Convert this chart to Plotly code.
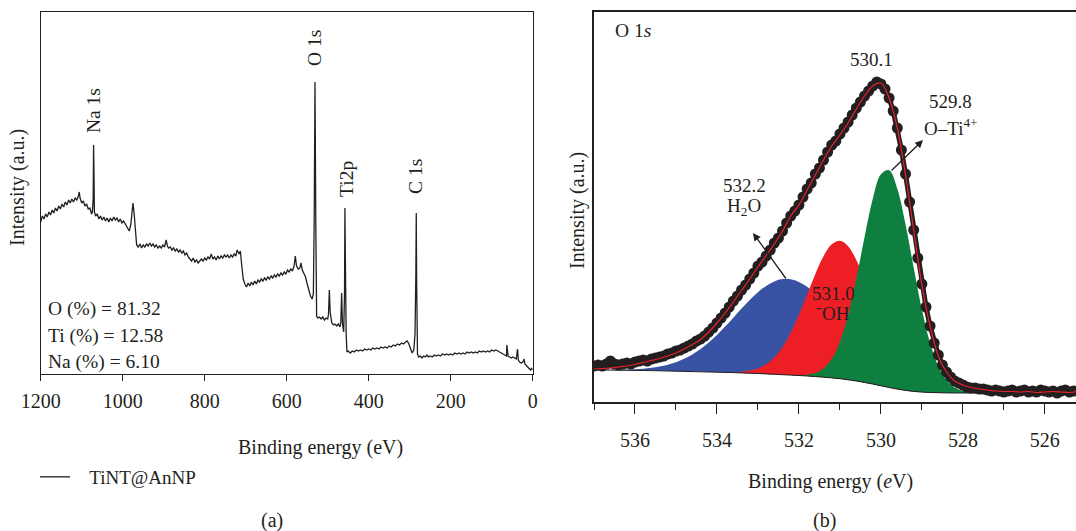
import numpy as np
import plotly.graph_objects as go

# ---------------- (a) survey spectrum ----------------
survey_E = [1200,1196,1192,1188,1184,1180,1176,1172,1168,1164,1160,1156,1152,1148,1144,1140,1136,1132,1128,1124,1120,1116,1112,1108,1106,1104,1100,1096,1092,1088,1084,1080,1076,1074,1072,1071,1070,1069,1066,1062,
    1058,1054,1050,1046,1042,1038,1034,1030,1026,1022,1018,1014,1010,1006,1002,998,994,990,986,984,980,977,975,972,969,966,
    962,958,954,950,946,942,938,934,930,926,922,918,914,910,906,902,898,894,891,888,884,880,876,872,868,864,860,856,852,848,844,840,836,832,828,824,820,816,812,808,804,800,796,792,788,784,780,776,772,768,764,760,756,752,748,744,740,736,732,728,724,721,716,713,710,706,702,698,694,690,686,682,678,674,670,666,662,658,654,650,646,642,638,634,630,626,622,618,614,610,606,602,598,594,590,586,582,579,576,572,568,565,562,558,554,550,546,542,538,535,533,531,529,527,524,520,516,512,508,504,500,498,496,494,490,486,482,478,474,470,468,466,464,461,459,458,457,455,453,
    450,445,440,435,430,425,420,415,410,405,400,395,390,385,380,375,370,365,360,355,350,345,340,335,330,325,320,315,310,306,302,298,294,290,287,285,284,283,281,278,
    274,270,266,262,258,254,250,245,240,235,230,225,220,215,210,205,200,195,190,185,180,175,170,165,160,155,150,145,140,135,130,125,120,115,110,105,100,95,90,85,80,76,72,68,64,63,62,60,56,52,48,44,40,37,35,32,28,24,21,19,16,12,8,5,3,0]
survey_I = [152,158,155,160,157,162,159,164,161,166,163,168,165,170,167,172,169,174,171,175,172,176,174,178,182,176,171,173,168,170,165,166,160,162,175,229,200,162,158,160,
    155,158,154,157,153,156,152,156,153,157,154,156,152,155,151,153,150,148,145,143,150,168,171,160,140,129,
    127,130,126,129,127,130,128,131,128,130,127,129,126,128,126,129,127,134,128,126,127,124,126,123,125,122,124,121,123,119,121,117,115,113,116,112,114,111,113,115,113,116,114,117,115,120,115,117,114,118,115,118,116,119,117,119,116,119,117,120,118,124,120,123,110,95,90,87,91,88,92,89,93,90,94,92,95,93,96,94,97,95,98,96,99,97,100,98,101,99,102,100,104,102,105,103,108,118,108,105,106,111,104,101,97,90,84,78,75,80,150,292,150,58,56,57,55,57,54,56,55,60,84,62,51,49,50,48,50,47,52,81,50,42,80,166,120,40,22,
    23,21,23,22,24,23,24,23,25,24,25,24,26,25,26,25,27,26,27,26,28,27,29,28,30,29,31,30,32,33,30,25,21,24,40,100,161,90,20,17,
    18,16,18,17,19,17,18,17,19,18,19,18,20,19,20,19,20,19,21,20,21,20,21,20,22,21,22,21,22,21,23,22,23,22,23,22,24,23,24,23,22,21,20,19,18,29,20,18,17,16,17,16,15,25,14,12,11,12,15,10,9,7,5,4,6,4]
survey_ticks = [1200, 1000, 800, 600, 400, 200, 0]
peak_labels = ["Na 1s", "O 1s", "Ti2p", "C 1s"]
composition = ["O (%) = 81.32", "Ti (%) = 12.58", "Na (%) = 6.10"]

# ---------------- (b) O 1s high resolution ----------------
o1s_E = np.round(np.arange(537.0, 525.25, -0.1), 1)
o1s_counts = [36,37,36,38,41,38,37,38,39,38,40,41,42,41,43,44,45,46,48,49,51,52,54,56,58,61,63,66,70,74,
    79,84,89,95,101,106,112,117,123,129,136,140,146,152,159,164,171,179,186,191,
    197,205,213,219,228,234,242,250,257,261,268,274,280,287,294,300,306,311,316,320,
    318,313,304,291,274,252,228,200,172,144,118,95,76,59,47,37,30,25,21,19,
    17,15,14,14,13,13,12,11,12,11,10,11,12,10,11,12,10,11,10,12,11,10,11,9,11,12,10,11]

fit_E = np.round(np.arange(537.0, 525.15, -0.2), 1)
background = [32,32,31.9,31.8,31.7,31.6,31.5,31.4,31.2,31.0,30.8,30.6,30.4,30.2,30.0,29.8,29.6,29.4,29.1,28.8,
    28.5,28.1,27.7,27.3,26.9,26.5,26.0,25.4,24.8,24.1,23.3,22.2,21.0,19.5,18.0,16.2,14.5,12.9,11.6,10.6,
    9.9,9.5,9.3,9.1,9.0,9.0,9.0,9.0,9.0,9.0,9.0,9.0,9.0,9.0,9.0,9.0,9.0,9.0,9.0,9.0]
h2o_peak = [0.1,0.1,0.3,0.4,0.7,1.1,1.8,2.8,4.3,6.3,9.0,12.6,17.2,22.8,29.5,37.2,45.9,54.9,64.3,73.2,
    81.3,88.0,92.9,95.6,95.8,93.6,89.2,82.8,74.9,66.1,56.8,47.6,38.9,31.0,24.0,18.2,13.4,9.6,6.8,4.6,
    3.1,2.0,1.3,0.8,0.5,0.3,0.2,0.1,0,0,0,0,0,0,0,0,0,0,0,0]
oh_peak = [0,0,0,0,0,0,0,0,0,0,0,0,0,0,0,0,0,0.5,1.2,2.6,
    5.1,9.6,16.9,27.6,42.3,60.7,81.6,102.7,121.0,133.6,138,133.6,121.0,102.7,81.6,60.7,42.3,27.6,16.9,9.6,
    5.1,2.6,1.2,0.5,0.2,0,0,0,0,0,0,0,0,0,0,0,0,0,0,0]
oti_peak = [0,0,0,0,0,0,0,0,0,0,0,0,0,0,0,0,0,0,0,0,
    0,0,0,0,0.1,0.4,1.3,3.5,8.6,18.8,36.8,64.8,102.4,145.2,184.9,211.5,217.3,200.4,166.1,123.6,
    82.6,49.5,26.6,12.9,5.6,2.2,0.8,0.3,0.1,0,0,0,0,0,0,0,0,0,0,0]
envelope = [33,33.5,34,35,36,37.5,39.5,41.5,43.5,46,49,53,57.5,62.5,70,79,89,100,111.5,123,
    135,146.5,158,171,186,197,212,227,242,256,267,279,293,306,316,319,304,274,227,172,
    117,76,46,30,21,17,14.5,13,12,11,10.5,10.5,10,10.5,9.5,10,10.5,10,9.5,10.5]
o1s_ticks = [536, 534, 532, 530, 528, 526]

INK = "#231f20"
FONT = "Liberation Serif"
W, H = 1076, 531

def px(x):
    return x / W

def py(y):
    return 1 - y / H

fig = go.Figure()

fig.add_trace(go.Scatter(x=survey_E, y=survey_I, mode="lines",
                         name="\u00a0\u00a0\u00a0TiNT@AnNP",
                         line=dict(color=INK, width=1.3), xaxis="x", yaxis="y"))

bg = np.array(background)
for comp, col in [(h2o_peak, "#3953a4"), (oh_peak, "#ed1f24"), (oti_peak, "#0e7f3e")]:
    fig.add_trace(go.Scatter(x=fit_E, y=bg, mode="lines", line=dict(width=0, color=col, shape="spline"),
                             showlegend=False, hoverinfo="skip", xaxis="x2", yaxis="y2"))
    fig.add_trace(go.Scatter(x=fit_E, y=bg + np.array(comp), mode="lines", fill="tonexty",
                             fillcolor=col, line=dict(width=0, color=col, shape="spline"),
                             showlegend=False, xaxis="x2", yaxis="y2"))
fig.add_trace(go.Scatter(x=fit_E, y=bg, mode="lines", line=dict(width=1, color=INK, shape="spline"),
                         showlegend=False, xaxis="x2", yaxis="y2"))
fig.add_trace(go.Scatter(x=o1s_E, y=o1s_counts, mode="lines+markers",
                         line=dict(color=INK, width=5),
                         marker=dict(size=11, color=INK, line=dict(width=0)),
                         showlegend=False, xaxis="x2", yaxis="y2"))
fig.add_trace(go.Scatter(x=fit_E, y=envelope, mode="lines", line=dict(width=1.2, color="#e8232a", shape="spline"),
                         showlegend=False, xaxis="x2", yaxis="y2"))

axis_font = dict(family=FONT, size=20, color=INK)
fig.update_layout(
    width=W, height=H, margin=dict(l=0, r=0, t=0, b=0, autoexpand=False),
    paper_bgcolor="white", plot_bgcolor="white",
    font=dict(family=FONT, size=20, color=INK),
    showlegend=True,
    legend=dict(x=px(35), y=py(477), xanchor="left", yanchor="middle",
                font=dict(family=FONT, size=19, color=INK), bgcolor="rgba(0,0,0,0)"),
    xaxis=dict(domain=[px(40.7), px(532.7)], range=[1200, 0], tickvals=survey_ticks,
               ticks="outside", ticklen=6, tickwidth=1.2, tickcolor=INK, automargin=False,
               showline=True, linecolor=INK, linewidth=1.3, mirror=True,
               showgrid=False, zeroline=False, tickfont=axis_font, ticklabelstandoff=3),
    yaxis=dict(domain=[py(374), py(12)], range=[0, 362], showticklabels=False, ticks="",
               showline=True, linecolor=INK, linewidth=1.3, mirror=True, automargin=False,
               showgrid=False, zeroline=False),
    xaxis2=dict(domain=[px(594), 1.0], range=[537.0, 525.24], tickvals=o1s_ticks,
                ticks="outside", ticklen=10, tickwidth=1.3, tickcolor=INK, automargin=False,
                minor=dict(dtick=1, ticks="outside", ticklen=6, tickwidth=1.2, tickcolor=INK),
                showline=True, linecolor=INK, linewidth=1.5, mirror=True,
                showgrid=False, zeroline=False, tickfont=axis_font, ticklabelstandoff=9,
                anchor="y2"),
    yaxis2=dict(domain=[py(402), py(12)], range=[0, 390], showticklabels=False, ticks="",
                showline=True, linecolor=INK, linewidth=1.5, mirror=False, automargin=False,
                showgrid=False, zeroline=False, anchor="x2"),
)

ann = []
def text(x, y, t, size=20, angle=0, xanchor="center", yanchor="middle", color=INK):
    ann.append(dict(x=px(x), y=py(y), xref="paper", yref="paper", text=t, showarrow=False,
                    textangle=angle, xanchor=xanchor, yanchor=yanchor,
                    font=dict(family=FONT, size=size, color=color)))

# (a) texts
for lab, (x, y) in zip(peak_labels, [(94, 111), (314, 48), (347, 179), (416, 177)]):
    text(x, y, lab, size=19.5, angle=-90)
for i, t in enumerate(composition):
    text(46, 309 + 26.5 * i, t, size=19.5, xanchor="left")
text(18, 188, "Intensity (a.u.)", angle=-90)
text(320, 447, "Binding energy (eV)")
text(272, 520, "(a)")

# (b) texts
text(613, 30, "O 1<i>s</i>", size=19.5, xanchor="left")
text(578, 211, "Intensity (a.u.)", angle=-90)
text(830, 481, "Binding energy (<i>e</i>V)")
text(824, 520, "(b)")
text(871, 60, "530.1", size=19)
text(950, 101, "529.8", size=19)
text(951, 127, "O–Ti<sup>4+</sup>", size=19)
text(744, 185, "532.2", size=19)
text(744, 207, "H<sub>2</sub>O", size=19)
text(833, 293, "531.0", size=19)
text(833, 313, "\u207bOH", size=19)

# arrows (tail -> head, offsets in pixels)
for (x0, y0, x1, y1) in [(890, 172, 923, 140), (787, 280, 753, 233)]:
    ann.append(dict(x=px(x1), y=py(y1), xref="paper", yref="paper",
                    ax=x0 - x1, ay=y0 - y1, axref="pixel", ayref="pixel", text="", showarrow=True,
                    arrowhead=2, arrowsize=1.2, arrowwidth=1.3, arrowcolor=INK))

fig.update_layout(annotations=ann)
fig.write_html("out.html", config={"displayModeBar": False},
               post_script="document.body.style.margin='0';document.body.style.overflow='hidden';")
